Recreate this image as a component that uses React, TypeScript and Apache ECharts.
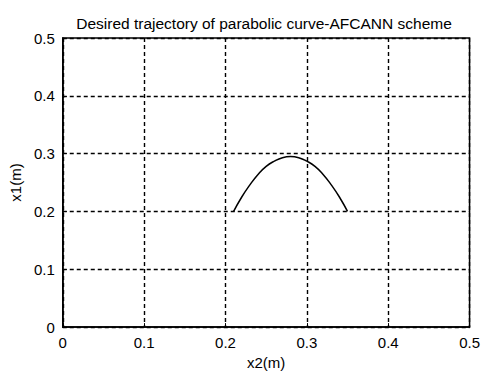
import React, { useEffect, useRef } from "react";
import * as echarts from "echarts";

const titleText = "Desired trajectory of parabolic curve-AFCANN scheme";
const xName = "x2(m)";
const yName = "x1(m)";
const x2Values = [0.21, 0.22, 0.23, 0.24, 0.25, 0.26, 0.27, 0.28, 0.29, 0.3, 0.31, 0.32, 0.33, 0.34, 0.35];
const x1Values = [0.2, 0.225, 0.246, 0.264, 0.278, 0.287, 0.293, 0.295, 0.293, 0.287, 0.278, 0.264, 0.246, 0.225, 0.2];

const FONT = "'Liberation Sans', Arial, sans-serif";

export default function App() {
  const ref = useRef<HTMLDivElement>(null);
  useEffect(() => {
    if (!ref.current) return;
    const chart = echarts.init(ref.current, undefined, { renderer: "svg" });
    const data = x2Values.map((x, i) => [x, x1Values[i]]);
    const axisCommon = {
      min: 0,
      max: 0.5,
      interval: 0.1,
      axisLine: { show: true, onZero: false, lineStyle: { color: "#000", width: 1.5 } },
      axisTick: { show: true, inside: true, length: 4, lineStyle: { color: "#000" } },
      axisLabel: { color: "#000", fontSize: 15, fontFamily: FONT, formatter: (v: number) => String(Math.round(v * 10) / 10) },
      splitLine: { show: true, lineStyle: { color: "#000", type: [4, 3] as any, width: 1.4 } },
      nameLocation: "middle" as const,
      nameTextStyle: { color: "#000", fontSize: 15, fontFamily: FONT },
    };
    chart.setOption({
      animation: false,
      backgroundColor: "#fff",
      title: {
        text: titleText,
        left: 259,
        textAlign: "center",
        top: 10,
        textStyle: { color: "#000", fontSize: 15.5, fontWeight: "normal", fontFamily: FONT },
      },
      grid: { left: 57, right: 13, top: 38, bottom: 42, show: true, borderColor: "#000", borderWidth: 1.5 },
      xAxis: { type: "value", ...axisCommon, name: xName, nameGap: 21 },
      yAxis: { type: "value", ...axisCommon, name: yName, nameGap: 25 },
      series: [
        {
          type: "line",
          data,
          showSymbol: false,
          smooth: true,
          lineStyle: { color: "#000", width: 1.5 },
        },
      ],
    });
    return () => chart.dispose();
  }, []);
  return <div ref={ref} style={{ position: "fixed", left: 0, top: 0, width: 483, height: 375 }} />;
}
